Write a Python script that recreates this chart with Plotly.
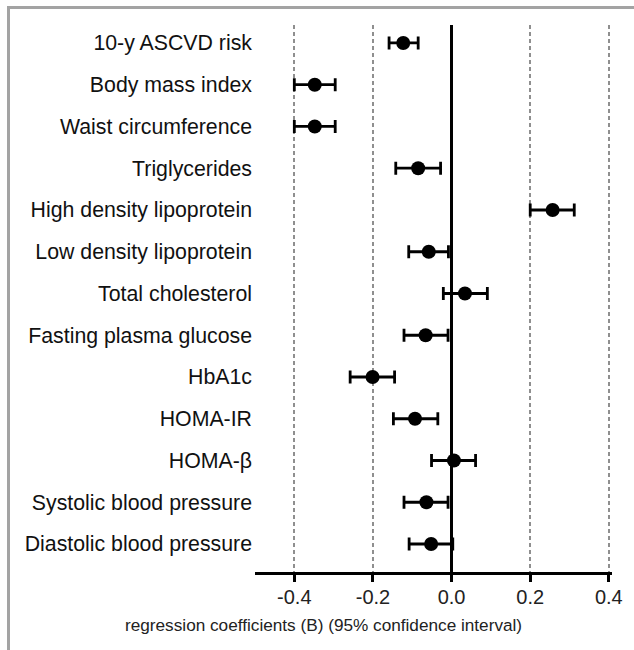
import plotly.graph_objects as go

labels = ["10-y ASCVD risk", "Body mass index", "Waist circumference", "Triglycerides",
          "High density lipoprotein", "Low density lipoprotein", "Total cholesterol",
          "Fasting plasma glucose", "HbA1c", "HOMA-IR", "HOMA-β",
          "Systolic blood pressure", "Diastolic blood pressure"]
coef = [-0.123, -0.348, -0.348, -0.085, 0.257, -0.058, 0.034, -0.066, -0.201, -0.093, 0.006, -0.064, -0.052]
lower = [-0.159, -0.400, -0.400, -0.142, 0.200, -0.109, -0.021, -0.121, -0.258, -0.148, -0.051, -0.121, -0.108]
upper = [-0.085, -0.296, -0.296, -0.028, 0.312, -0.008, 0.091, -0.009, -0.145, -0.035, 0.061, -0.009, 0.003]
x_ticks = [-0.4, -0.2, 0.0, 0.2, 0.4]
x_ticktext = ["-0.4", "-0.2", "0.0", "0.2", "0.4"]
x_title = "regression coefficients (B) (95% confidence interval)"

rows = list(range(len(labels)))
err_plus = [u - c for u, c in zip(upper, coef)]
err_minus = [c - l for c, l in zip(coef, lower)]

FONT = "Liberation Sans, Arial, sans-serif"

fig = go.Figure()
fig.add_trace(go.Scatter(
    x=coef, y=rows, mode="markers",
    marker=dict(size=14, color="black"),
    error_x=dict(type="data", symmetric=False, array=err_plus, arrayminus=err_minus,
                 color="black", thickness=2.8, width=6.5),
    showlegend=False, hoverinfo="skip",
))

W, H = 634, 650
L, R, T, B = 255, 22, 25, 78
pw, ph = W - L - R, H - T - B

def px(xp):
    return (xp - L) / pw

def py(yp):
    return (H - B - yp) / ph

fig.update_layout(
    width=W, height=H,
    margin=dict(l=L, r=R, t=T, b=B),
    paper_bgcolor="white", plot_bgcolor="white",
    font=dict(family=FONT, color="black"),
    xaxis=dict(
        range=[-0.5, 0.408], tickvals=x_ticks, ticktext=x_ticktext,
        showgrid=True, gridcolor="#8f8f8f", griddash="4px,3px", gridwidth=2.4,
        zeroline=True, zerolinecolor="black", zerolinewidth=2.5,
        showline=True, linecolor="black", linewidth=2.5,
        ticks="outside", ticklen=7, tickwidth=2.5, tickcolor="black",
        ticklabelstandoff=-2,
        tickfont=dict(size=20, color="#222"),
    ),
    yaxis=dict(
        range=[12.67, -0.43], tickvals=rows, ticktext=labels,
        showgrid=False, zeroline=False, showline=False, ticks="",
        ticklabelstandoff=2,
        tickfont=dict(size=21.3, color="#111"),
    ),
    annotations=[dict(
        text=x_title, xref="paper", yref="paper", x=px(323), y=py(625),
        xanchor="center", yanchor="middle", showarrow=False,
        font=dict(size=17.2, color="#222"),
    )],
    shapes=[
        dict(type="line", xref="paper", yref="paper", x0=px(7), x1=px(640),
             y0=py(7.5), y1=py(7.5), line=dict(color="#a3a3a3", width=3)),
        dict(type="line", xref="paper", yref="paper", x0=px(8.5), x1=px(8.5),
             y0=py(6), y1=py(660), line=dict(color="#a3a3a3", width=3)),
    ],
)

fig.write_html("out.html")
